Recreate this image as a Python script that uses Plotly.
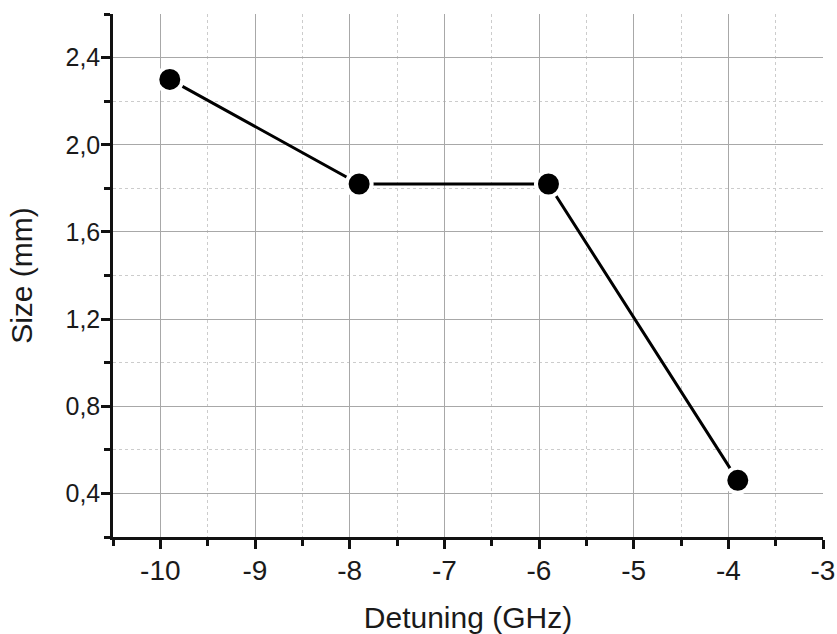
import plotly.graph_objects as go

detuning = [-9.9, -7.9, -5.9, -3.9]
size_mm = [2.30, 1.82, 1.82, 0.46]

x_ticks = [-10, -9, -8, -7, -6, -5, -4, -3]
y_ticks = [0.4, 0.8, 1.2, 1.6, 2.0, 2.4]

FONT = "Liberation Sans, Arial, sans-serif"

fig = go.Figure()
fig.add_trace(go.Scatter(
    x=detuning, y=size_mm, mode="lines+markers",
    line=dict(color="black", width=3),
    marker=dict(color="black", size=25, line=dict(color="white", width=4)),
    showlegend=False,
))

fig.update_layout(
    width=837, height=634,
    margin=dict(l=113, r=14, t=14, b=97),
    plot_bgcolor="white", paper_bgcolor="white",
    separators=",.",
    font=dict(family=FONT, color="#1a1a1a"),
)
fig.update_xaxes(
    range=[-10.5, -3], tickvals=x_ticks, ticktext=[str(v) for v in x_ticks],
    automargin=False,
    showline=True, linecolor="#111", linewidth=2.5,
    ticks="outside", ticklen=9, tickwidth=2.5, tickcolor="#111",
    showgrid=True, gridcolor="#a8a8a8", gridwidth=1,
    zeroline=False, tickfont=dict(family=FONT, size=28, color="#1a1a1a"),
    ticklabelstandoff=-2,
    title=dict(text="Detuning (GHz)", font=dict(size=30, family=FONT, color="#1a1a1a"), standoff=22),
    minor=dict(dtick=0.5, tick0=-10.5, ticks="outside", ticklen=6, tickwidth=2.5, tickcolor="#111",
               showgrid=True, gridcolor="#cccccc", griddash="dot", gridwidth=1),
)
fig.update_yaxes(
    range=[0.2, 2.6], tickvals=y_ticks, tickformat=".1f",
    automargin=False,
    showline=True, linecolor="#111", linewidth=2.5,
    ticks="outside", ticklen=9, tickwidth=2.5, tickcolor="#111",
    showgrid=True, gridcolor="#a8a8a8", gridwidth=1,
    zeroline=False, tickfont=dict(family=FONT, size=25, color="#1a1a1a"),
    ticklabelstandoff=-4,
    title=dict(text="Size (mm)", font=dict(size=30, family=FONT, color="#1a1a1a"), standoff=24),
    minor=dict(dtick=0.2, tick0=0.2, ticks="outside", ticklen=6, tickwidth=2.5, tickcolor="#111",
               showgrid=True, gridcolor="#cccccc", griddash="dot", gridwidth=1),
)

fig.write_html("out.html", config={"displayModeBar": False},
               post_script="document.body.style.margin='0';")
